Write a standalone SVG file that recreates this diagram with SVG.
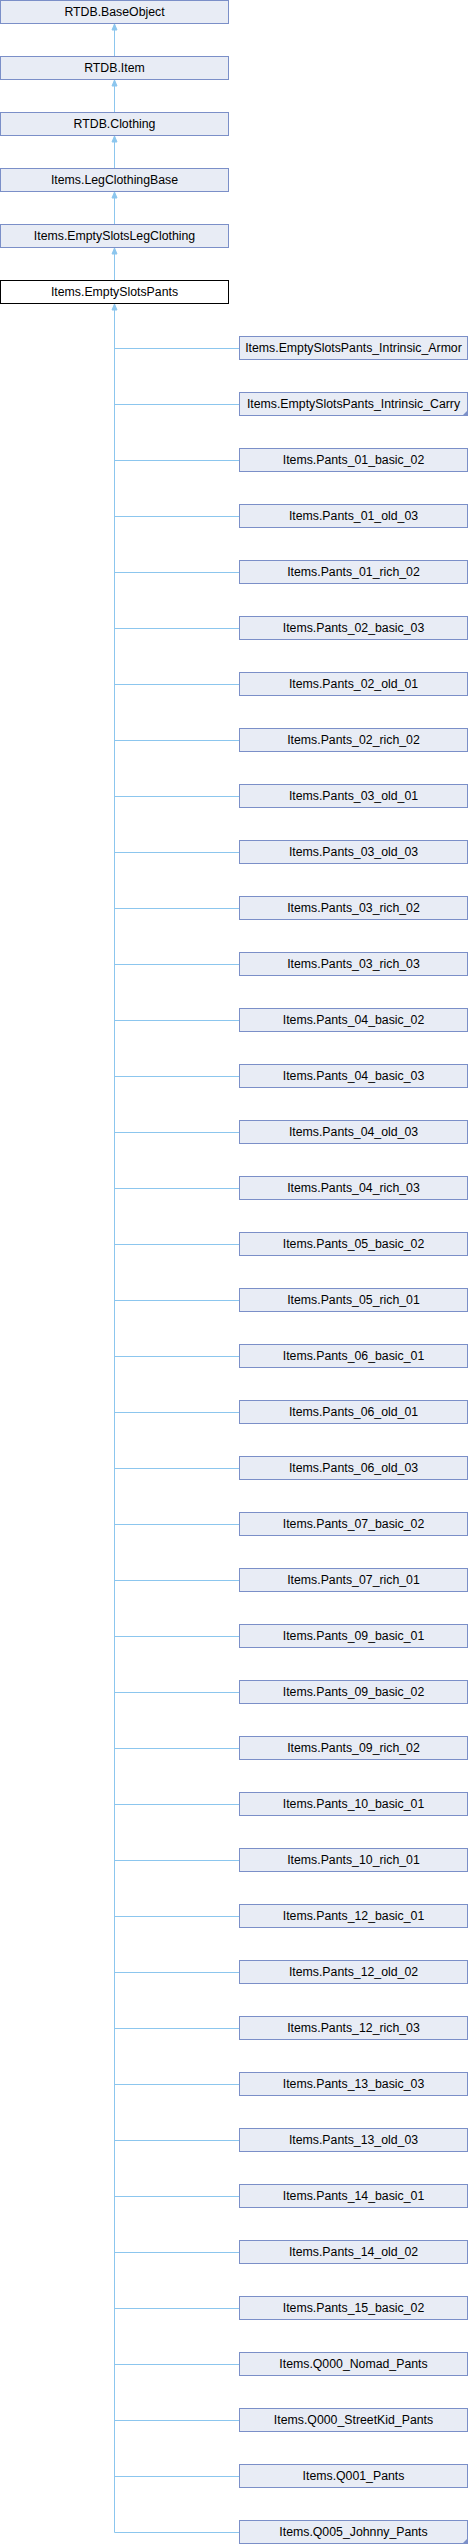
<svg xmlns="http://www.w3.org/2000/svg" width="468" height="2544" viewBox="0 0 468 2544">
<style>
.n rect{fill:#e8ecf5;stroke:#7b8fc8;stroke-width:1}
.h rect{fill:#ffffff;stroke:#000000;stroke-width:1}
text{font-family:"Liberation Sans",Arial,sans-serif;font-size:12.3px;fill:#000;text-anchor:middle}
.e{stroke:#8cc6ee;stroke-width:1;fill:none}
.a{fill:#8cc6ee;stroke:#8cc6ee;stroke-width:1}
.c{fill:#7b8fc8}
</style>
<rect x="0" y="0" width="468" height="2544" fill="#ffffff"/>
<g id="edges">
<path class="e" d="M114.5,30V56.5M114.5,86V112.5M114.5,142V168.5M114.5,198V224.5M114.5,254V280.5"/>
<polygon class="a" points="114.5,24 112,30 117,30"/>
<polygon class="a" points="114.5,80 112,86 117,86"/>
<polygon class="a" points="114.5,136 112,142 117,142"/>
<polygon class="a" points="114.5,192 112,198 117,198"/>
<polygon class="a" points="114.5,248 112,254 117,254"/>
<path class="e" d="M114.5,310V2532.5"/>
<polygon class="a" points="114.5,304 112,310 117,310"/>
<path class="e" d="M114.5,348.5H239.5M114.5,404.5H239.5M114.5,460.5H239.5M114.5,516.5H239.5M114.5,572.5H239.5M114.5,628.5H239.5M114.5,684.5H239.5M114.5,740.5H239.5M114.5,796.5H239.5M114.5,852.5H239.5M114.5,908.5H239.5M114.5,964.5H239.5M114.5,1020.5H239.5M114.5,1076.5H239.5M114.5,1132.5H239.5M114.5,1188.5H239.5M114.5,1244.5H239.5M114.5,1300.5H239.5M114.5,1356.5H239.5M114.5,1412.5H239.5M114.5,1468.5H239.5M114.5,1524.5H239.5M114.5,1580.5H239.5M114.5,1636.5H239.5M114.5,1692.5H239.5M114.5,1748.5H239.5M114.5,1804.5H239.5M114.5,1860.5H239.5M114.5,1916.5H239.5M114.5,1972.5H239.5M114.5,2028.5H239.5M114.5,2084.5H239.5M114.5,2140.5H239.5M114.5,2196.5H239.5M114.5,2252.5H239.5M114.5,2308.5H239.5M114.5,2364.5H239.5M114.5,2420.5H239.5M114.5,2476.5H239.5M114.5,2532.5H239.5"/>
</g>
<g id="node_BaseObject" class="n"><rect x="0.5" y="0.5" width="228" height="23"/><text x="114.5" y="16">RTDB.BaseObject</text></g>
<g id="node_Item" class="n"><rect x="0.5" y="56.5" width="228" height="23"/><text x="114.5" y="72">RTDB.Item</text></g>
<g id="node_Clothing" class="n"><rect x="0.5" y="112.5" width="228" height="23"/><text x="114.5" y="128">RTDB.Clothing</text></g>
<g id="node_LegClothingBase" class="n"><rect x="0.5" y="168.5" width="228" height="23"/><text x="114.5" y="184">Items.LegClothingBase</text></g>
<g id="node_EmptySlotsLegClothing" class="n"><rect x="0.5" y="224.5" width="228" height="23"/><text x="114.5" y="240">Items.EmptySlotsLegClothing</text></g>
<g id="node_EmptySlotsPants" class="h"><rect x="0.5" y="280.5" width="228" height="23"/><text x="114.5" y="296">Items.EmptySlotsPants</text></g>
<g id="c01" class="n"><rect x="239.5" y="336.5" width="228" height="23"/><text x="353.5" y="352">Items.EmptySlotsPants_Intrinsic_Armor</text></g>
<g id="c02" class="n"><rect x="239.5" y="392.5" width="228" height="23"/><text x="353.5" y="408">Items.EmptySlotsPants_Intrinsic_Carry</text><polygon class="c" points="468,410 468,416 462,416"/></g>
<g id="c03" class="n"><rect x="239.5" y="448.5" width="228" height="23"/><text x="353.5" y="464">Items.Pants_01_basic_02</text></g>
<g id="c04" class="n"><rect x="239.5" y="504.5" width="228" height="23"/><text x="353.5" y="520">Items.Pants_01_old_03</text></g>
<g id="c05" class="n"><rect x="239.5" y="560.5" width="228" height="23"/><text x="353.5" y="576">Items.Pants_01_rich_02</text></g>
<g id="c06" class="n"><rect x="239.5" y="616.5" width="228" height="23"/><text x="353.5" y="632">Items.Pants_02_basic_03</text></g>
<g id="c07" class="n"><rect x="239.5" y="672.5" width="228" height="23"/><text x="353.5" y="688">Items.Pants_02_old_01</text></g>
<g id="c08" class="n"><rect x="239.5" y="728.5" width="228" height="23"/><text x="353.5" y="744">Items.Pants_02_rich_02</text></g>
<g id="c09" class="n"><rect x="239.5" y="784.5" width="228" height="23"/><text x="353.5" y="800">Items.Pants_03_old_01</text></g>
<g id="c10" class="n"><rect x="239.5" y="840.5" width="228" height="23"/><text x="353.5" y="856">Items.Pants_03_old_03</text></g>
<g id="c11" class="n"><rect x="239.5" y="896.5" width="228" height="23"/><text x="353.5" y="912">Items.Pants_03_rich_02</text></g>
<g id="c12" class="n"><rect x="239.5" y="952.5" width="228" height="23"/><text x="353.5" y="968">Items.Pants_03_rich_03</text></g>
<g id="c13" class="n"><rect x="239.5" y="1008.5" width="228" height="23"/><text x="353.5" y="1024">Items.Pants_04_basic_02</text></g>
<g id="c14" class="n"><rect x="239.5" y="1064.5" width="228" height="23"/><text x="353.5" y="1080">Items.Pants_04_basic_03</text></g>
<g id="c15" class="n"><rect x="239.5" y="1120.5" width="228" height="23"/><text x="353.5" y="1136">Items.Pants_04_old_03</text></g>
<g id="c16" class="n"><rect x="239.5" y="1176.5" width="228" height="23"/><text x="353.5" y="1192">Items.Pants_04_rich_03</text></g>
<g id="c17" class="n"><rect x="239.5" y="1232.5" width="228" height="23"/><text x="353.5" y="1248">Items.Pants_05_basic_02</text></g>
<g id="c18" class="n"><rect x="239.5" y="1288.5" width="228" height="23"/><text x="353.5" y="1304">Items.Pants_05_rich_01</text></g>
<g id="c19" class="n"><rect x="239.5" y="1344.5" width="228" height="23"/><text x="353.5" y="1360">Items.Pants_06_basic_01</text></g>
<g id="c20" class="n"><rect x="239.5" y="1400.5" width="228" height="23"/><text x="353.5" y="1416">Items.Pants_06_old_01</text></g>
<g id="c21" class="n"><rect x="239.5" y="1456.5" width="228" height="23"/><text x="353.5" y="1472">Items.Pants_06_old_03</text></g>
<g id="c22" class="n"><rect x="239.5" y="1512.5" width="228" height="23"/><text x="353.5" y="1528">Items.Pants_07_basic_02</text></g>
<g id="c23" class="n"><rect x="239.5" y="1568.5" width="228" height="23"/><text x="353.5" y="1584">Items.Pants_07_rich_01</text></g>
<g id="c24" class="n"><rect x="239.5" y="1624.5" width="228" height="23"/><text x="353.5" y="1640">Items.Pants_09_basic_01</text></g>
<g id="c25" class="n"><rect x="239.5" y="1680.5" width="228" height="23"/><text x="353.5" y="1696">Items.Pants_09_basic_02</text></g>
<g id="c26" class="n"><rect x="239.5" y="1736.5" width="228" height="23"/><text x="353.5" y="1752">Items.Pants_09_rich_02</text></g>
<g id="c27" class="n"><rect x="239.5" y="1792.5" width="228" height="23"/><text x="353.5" y="1808">Items.Pants_10_basic_01</text></g>
<g id="c28" class="n"><rect x="239.5" y="1848.5" width="228" height="23"/><text x="353.5" y="1864">Items.Pants_10_rich_01</text></g>
<g id="c29" class="n"><rect x="239.5" y="1904.5" width="228" height="23"/><text x="353.5" y="1920">Items.Pants_12_basic_01</text></g>
<g id="c30" class="n"><rect x="239.5" y="1960.5" width="228" height="23"/><text x="353.5" y="1976">Items.Pants_12_old_02</text></g>
<g id="c31" class="n"><rect x="239.5" y="2016.5" width="228" height="23"/><text x="353.5" y="2032">Items.Pants_12_rich_03</text></g>
<g id="c32" class="n"><rect x="239.5" y="2072.5" width="228" height="23"/><text x="353.5" y="2088">Items.Pants_13_basic_03</text></g>
<g id="c33" class="n"><rect x="239.5" y="2128.5" width="228" height="23"/><text x="353.5" y="2144">Items.Pants_13_old_03</text></g>
<g id="c34" class="n"><rect x="239.5" y="2184.5" width="228" height="23"/><text x="353.5" y="2200">Items.Pants_14_basic_01</text></g>
<g id="c35" class="n"><rect x="239.5" y="2240.5" width="228" height="23"/><text x="353.5" y="2256">Items.Pants_14_old_02</text></g>
<g id="c36" class="n"><rect x="239.5" y="2296.5" width="228" height="23"/><text x="353.5" y="2312">Items.Pants_15_basic_02</text></g>
<g id="c37" class="n"><rect x="239.5" y="2352.5" width="228" height="23"/><text x="353.5" y="2368">Items.Q000_Nomad_Pants</text></g>
<g id="c38" class="n"><rect x="239.5" y="2408.5" width="228" height="23"/><text x="353.5" y="2424">Items.Q000_StreetKid_Pants</text></g>
<g id="c39" class="n"><rect x="239.5" y="2464.5" width="228" height="23"/><text x="353.5" y="2480">Items.Q001_Pants</text></g>
<g id="c40" class="n"><rect x="239.5" y="2520.5" width="228" height="23"/><text x="353.5" y="2536">Items.Q005_Johnny_Pants</text><polygon class="c" points="468,2538 468,2544 462,2544"/></g>
</svg>
